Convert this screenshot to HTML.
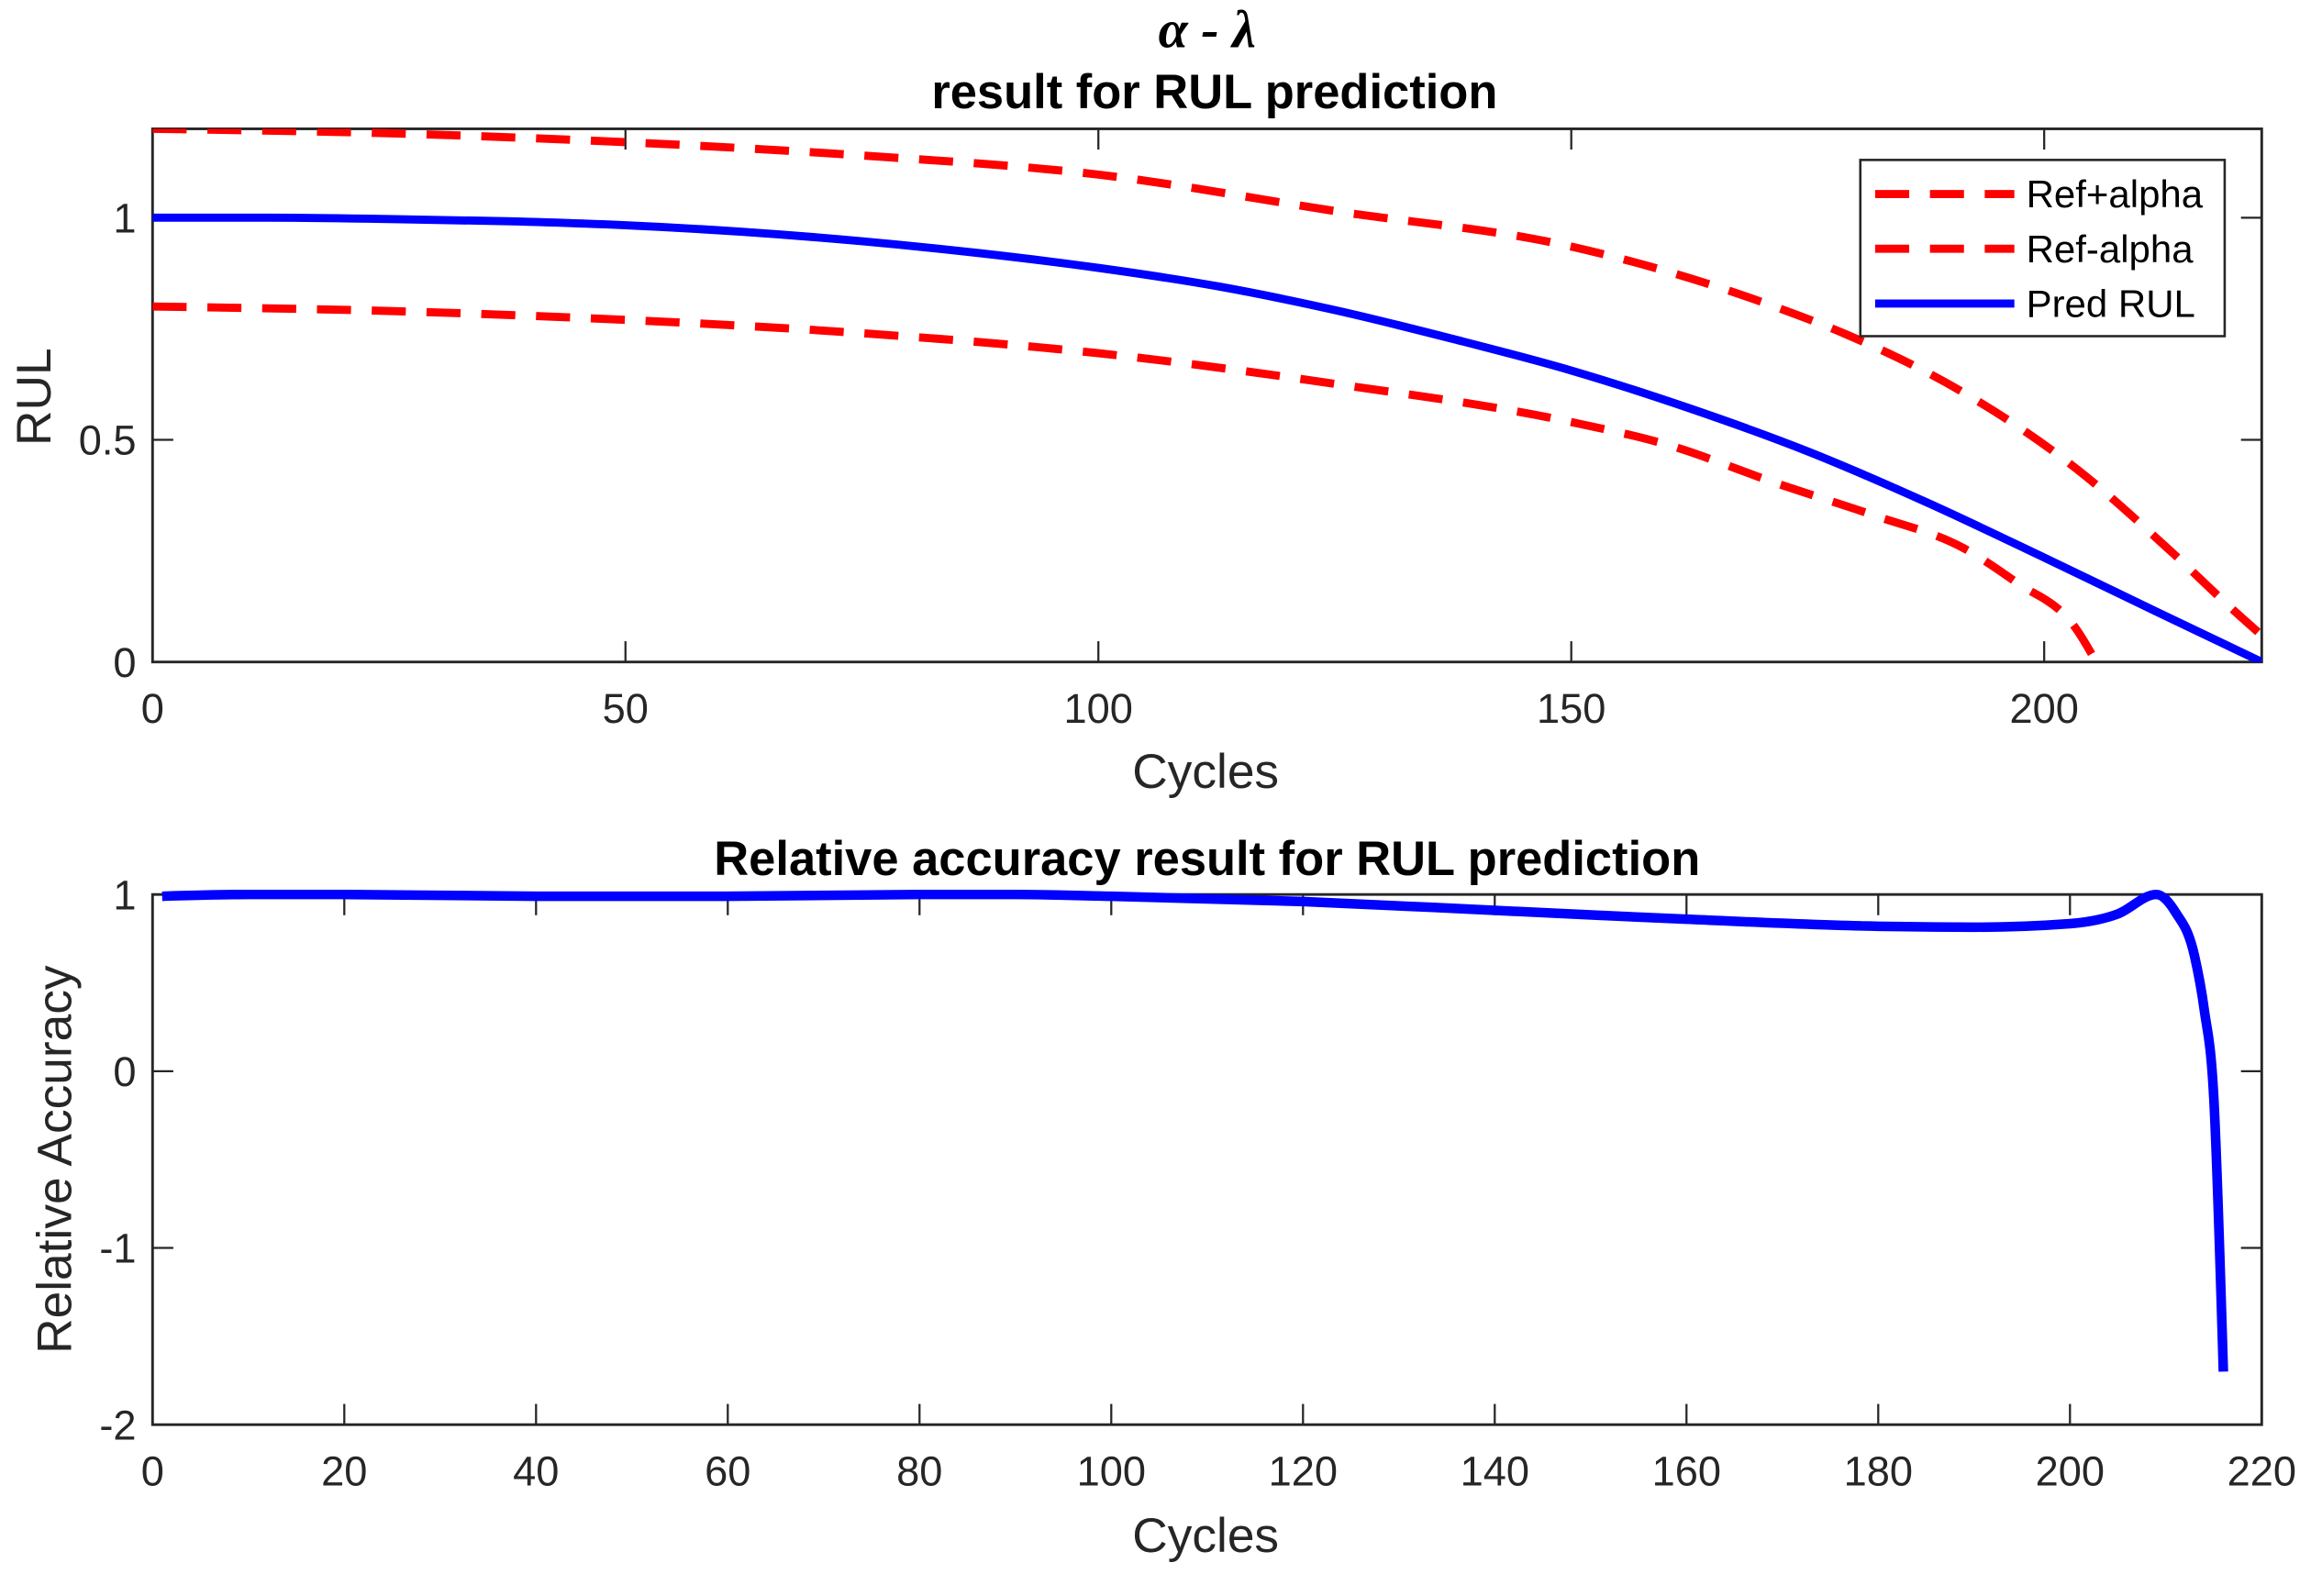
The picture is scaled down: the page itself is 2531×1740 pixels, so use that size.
<!DOCTYPE html>
<html><head><meta charset="utf-8"><style>
html,body{margin:0;padding:0;background:#fff;}
svg{display:block;font-family:"Liberation Sans",Arial,sans-serif;}
</style></head><body>
<svg id="chart" width="2531" height="1740" viewBox="0 0 1567.7 1077.7" preserveAspectRatio="none" xmlns="http://www.w3.org/2000/svg">
<rect width="1567.7" height="1077.7" fill="#fff"/>
<g id="top"></g>
<g id="bot"></g>
</svg>
<script>
// ---- top chart data ----
const predT = [0,12.5,25,37.5,50,62.5,75,87.5,100,112.5,125,137.5,150,162.5,175,187.5,200,212,223];
const predRUL = [1,1,0.997,0.992,0.983,0.968,0.947,0.92,0.887,0.846,0.792,0.727,0.656,0.571,0.474,0.36,0.235,0.112,0];
const upT = [0,25,50,75,100,125,150,160,172,179,191.5,203.4,213.6,220,223];
const upV = [1.2,1.19,1.17,1.14,1.097,1.015,0.935,0.88,0.796,0.738,0.606,0.435,0.245,0.117,0.06];
const loT = [0,25,50,75,100,125,150,160,172,182,191.5,197,203.4,205.5];
const loV = [0.8,0.79,0.77,0.74,0.695,0.626,0.54,0.49,0.4,0.33,0.256,0.18,0.074,0];
const topXTicks = [0,50,100,150,200];
const topYTicks = [0,0.5,1];
const topYLabels = ["0","0.5","1"];
// ---- bottom chart data ----
const raT = [1,10,20,40,60,80,90,100,120,140,160,180,190,200,205,209,211,213,214,215,216];
const raV = [0.99,1.0,1.0,0.99,0.99,1.0,1.0,0.99,0.96,0.91,0.86,0.82,0.815,0.835,0.89,1.0,0.9,0.65,0.35,-0.15,-1.7];
const botXTicks = [0,20,40,60,80,100,120,140,160,180,200,220];
const botYTicks = [-2,-1,0,1];

const NS="http://www.w3.org/2000/svg";
function mk(parent,tag,attrs,text){const e=document.createElementNS(NS,tag);for(const k in attrs)e.setAttribute(k,attrs[k]);if(text!==undefined)e.textContent=text;parent.appendChild(e);return e;}

function axes(g,L,R,T,B,xmin,xmax,ymin,ymax,xt,yt,ylabels){
  const sx=v=>L+(v-xmin)/(xmax-xmin)*(R-L);
  const sy=v=>B-(v-ymin)/(ymax-ymin)*(B-T);
  const box=mk(g,'rect',{x:L,y:T,width:R-L,height:B-T,fill:'none',stroke:'#262626','stroke-width':1.8});
  
  
  xt.forEach(v=>{
    const x=sx(v);
    mk(g,'line',{x1:x,y1:B,x2:x,y2:B-14,stroke:'#262626','stroke-width':1.4});
    mk(g,'line',{x1:x,y1:T,x2:x,y2:T+14,stroke:'#262626','stroke-width':1.4});
    const t=mk(g,'text',{x:x,y:B+41,'text-anchor':'middle','font-size':28,fill:'#262626'},String(v));
    
    
  });
  yt.forEach((v,i)=>{
    const y=sy(v);
    mk(g,'line',{x1:L,y1:y,x2:L+14,y2:y,stroke:'#262626','stroke-width':1.4});
    mk(g,'line',{x1:R,y1:y,x2:R-14,y2:y,stroke:'#262626','stroke-width':1.4});
    const t=mk(g,'text',{x:L-11,y:y+10,'text-anchor':'end','font-size':28,fill:'#262626'},ylabels?ylabels[i]:String(v));
    
    
  });
  return {sx,sy};
}
// monotone-x cubic path
function path(g,xs,ys,sx,sy,attrs,name){
  const X=xs.map(sx),Y=ys.map(sy),n=X.length;
  const s=[];for(let i=0;i<n-1;i++)s.push((Y[i+1]-Y[i])/(X[i+1]-X[i]));
  const m=new Array(n).fill(0);
  for(let i=1;i<n-1;i++){
    const h0=X[i]-X[i-1],h1=X[i+1]-X[i];
    const p=(s[i-1]*h1+s[i]*h0)/(h0+h1);
    m[i]=(Math.sign(s[i-1])+Math.sign(s[i]))*Math.min(Math.abs(s[i-1]),Math.abs(s[i]),0.5*Math.abs(p))||0;
  }
  m[0]=n>2?(3*s[0]-m[1])/2:s[0];
  m[n-1]=n>2?(3*s[n-2]-m[n-2])/2:s[n-2];
  let d='M'+X[0].toFixed(2)+','+Y[0].toFixed(2);
  for(let i=0;i<n-1;i++){
    const dx=(X[i+1]-X[i])/3;
    d+=' C'+(X[i]+dx).toFixed(2)+','+(Y[i]+dx*m[i]).toFixed(2)+' '+(X[i+1]-dx).toFixed(2)+','+(Y[i+1]-dx*m[i+1]).toFixed(2)+' '+X[i+1].toFixed(2)+','+Y[i+1].toFixed(2);
  }
  const p=mk(g,'path',Object.assign({d:d,fill:'none','stroke-linejoin':'round'},attrs));
  
  
  return p;
}

// top
const gt=document.getElementById('top');
const A=axes(gt,103,1527,87,447,0,223,0,1.2,topXTicks,topYTicks,topYLabels);
const clipT=mk(gt,'clipPath',{id:'ct'});mk(clipT,'rect',{x:103,y:87,width:1424,height:360});
const lg=mk(gt,'g',{'clip-path':'url(#ct)'});
path(lg,upT,upV,A.sx,A.sy,{stroke:'#ff0000','stroke-width':5.5,'stroke-dasharray':'23 14'},'ref-plus-alpha-line');
path(lg,loT,loV,A.sx,A.sy,{stroke:'#ff0000','stroke-width':5.5,'stroke-dasharray':'23 14'},'ref-minus-alpha-line');
path(lg,predT,predRUL,A.sx,A.sy,{stroke:'#0000ff','stroke-width':5.5}, 'pred-rul-line');
let t;
t=mk(gt,'text',{x:815,y:32,'text-anchor':'middle','font-size':36,'font-weight':'bold','font-style':'italic',fill:'#000','font-family':'Liberation Serif, serif'},'α - λ');

t=mk(gt,'text',{x:820,y:73,'text-anchor':'middle','font-size':32.5,'font-weight':'bold',fill:'#000'},'result for RUL prediction');

t=mk(gt,'text',{x:814,y:532,'text-anchor':'middle','font-size':33,fill:'#262626'},'Cycles');

t=mk(gt,'text',{x:0,y:0,'text-anchor':'middle','font-size':33,fill:'#262626',transform:'translate(34,268) rotate(-90)'},'RUL');

// legend
const leg=mk(gt,'g',{});

mk(leg,'rect',{x:1256,y:108,width:246,height:119,fill:'#fff',stroke:'#262626','stroke-width':1.6});
const legNames=['Ref+alpha','Ref-alpha','Pred RUL'];
const legY=[131,168,205];
legNames.forEach((n,i)=>{
  const e=mk(leg,'line',{x1:1266,y1:legY[i],x2:1360,y2:legY[i],stroke:i<2?'#ff0000':'#0000ff','stroke-width':5.5,'stroke-dasharray':i<2?'23 14':'none'});
  
  const tx=mk(leg,'text',{x:1368,y:legY[i]+9,'font-size':26,fill:'#000'},n);
  
});

// bottom
const gb=document.getElementById('bot');
const B2=axes(gb,103,1527,604,962,0,220,-2,1,botXTicks,botYTicks,null);
path(gb,raT,raV,B2.sx,B2.sy,{stroke:'#0000ff','stroke-width':6.5},'relative-accuracy-line');
t=mk(gb,'text',{x:815,y:591,'text-anchor':'middle','font-size':32.5,'font-weight':'bold',fill:'#000'},'Relative accuracy result for RUL prediction');

t=mk(gb,'text',{x:814,y:1048,'text-anchor':'middle','font-size':33,fill:'#262626'},'Cycles');

t=mk(gb,'text',{x:0,y:0,'text-anchor':'middle','font-size':33,fill:'#262626',transform:'translate(48,783) rotate(-90)'},'Relative Accuracy');

</script>
</body></html>
